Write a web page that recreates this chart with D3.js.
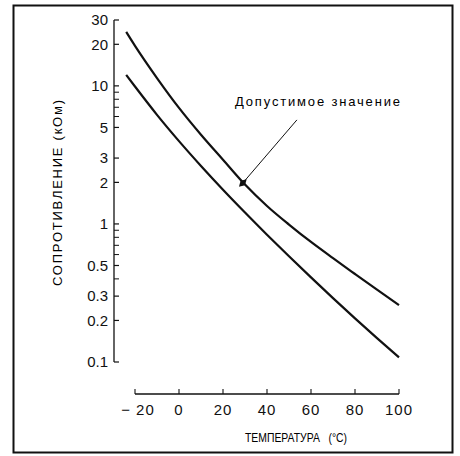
<!DOCTYPE html>
<meta charset="utf-8">
<style>
  body { margin: 0; background: white; }
  svg { display: block; font-family: "Liberation Sans", Arial, sans-serif; }
  .tick-label { font-size: 15px; fill: #111; }
</style>
<svg width="460" height="456"></svg>
<script src="https://cdn.jsdelivr.net/npm/d3@7"></script>
<script>
// температура (°C) и сопротивление (кОм)
var temps = [-24, -20, -10, 0, 10, 20, 30, 40, 50, 60, 70, 80, 90, 100];
var upper = [24.6, 19.5, 11.4, 6.93, 4.43, 2.92, 1.93, 1.35, 0.99, 0.74, 0.565, 0.434, 0.334, 0.258];
var lower = [12.0, 9.89, 6.17, 3.98, 2.63, 1.77, 1.21, 0.836, 0.583, 0.41, 0.29, 0.207, 0.149, 0.108];

var xTicks = [-20, 0, 20, 40, 60, 80, 100];
var yMajor = [30, 20, 10, 5, 3, 2, 1, 0.5, 0.3, 0.2, 0.1];
var yMinor = [9, 8, 7, 6, 0.9, 0.8, 0.7, 0.6, 0.4];

var marker = { t: 29, v: 1.98 };
var labelEnd = { t: 53.6, v: 5.67 };

var svg = d3.select("svg");

var x = d3.scaleLinear().domain([-20, 100]).range([135, 399]);
var y = d3.scaleLog().domain([0.1, 30]).range([362, 20]);

// рамка
svg.append("rect")
  .attr("x", 13.5).attr("y", 5.5)
  .attr("width", 439).attr("height", 447)
  .attr("fill", "none").attr("stroke", "#111").attr("stroke-width", 2);

// ось Y
var yAxisX = 114;
svg.append("line")
  .attr("x1", yAxisX).attr("x2", yAxisX)
  .attr("y1", y(30)).attr("y2", y(0.1))
  .attr("stroke", "#111").attr("stroke-width", 1.3);

svg.selectAll(".ymaj").data(yMajor).enter().append("line")
  .attr("x1", yAxisX).attr("x2", yAxisX + 5)
  .attr("y1", function(d) { return y(d); }).attr("y2", function(d) { return y(d); })
  .attr("stroke", "#111").attr("stroke-width", 1.2);

svg.selectAll(".ymin").data(yMinor).enter().append("line")
  .attr("x1", yAxisX).attr("x2", yAxisX + 5)
  .attr("y1", function(d) { return y(d); }).attr("y2", function(d) { return y(d); })
  .attr("stroke", "#111").attr("stroke-width", 1);

svg.selectAll(".ylab").data(yMajor).enter().append("text")
  .attr("class", "tick-label")
  .attr("x", yAxisX - 6)
  .attr("y", function(d) { return y(d); })
  .attr("dy", "0.35em")
  .attr("text-anchor", "end")
  .text(function(d) { return d; });

// ось X
var xAxisY = 394;
svg.append("line")
  .attr("x1", x(-20)).attr("x2", x(100))
  .attr("y1", xAxisY).attr("y2", xAxisY)
  .attr("stroke", "#111").attr("stroke-width", 1.3);

svg.selectAll(".xt").data(xTicks).enter().append("line")
  .attr("x1", function(d) { return x(d); }).attr("x2", function(d) { return x(d); })
  .attr("y1", xAxisY).attr("y2", xAxisY - 5)
  .attr("stroke", "#111").attr("stroke-width", 1.1);

svg.selectAll(".xlab").data(xTicks).enter().append("text")
  .attr("class", "tick-label")
  .attr("x", function(d) { return x(d) + (d < 0 ? 3 : 0); })
  .attr("y", 415)
  .attr("text-anchor", "middle")
  .attr("letter-spacing", "1px")
  .text(function(d) { return d < 0 ? "\u2212 " + Math.abs(d) : d; });

// подписи осей
svg.append("text")
  .attr("transform", "translate(245,442) scale(0.8,1)")
  .attr("font-size", 13)
  .style("white-space", "pre")
  .text("ТЕМПЕРАТУРА   (°C)");

svg.append("text")
  .attr("transform", "translate(62,193) rotate(-90)")
  .attr("text-anchor", "middle")
  .attr("font-size", 13)
  .attr("textLength", 186)
  .text("СОПРОТИВЛЕНИЕ (кОм)");

// кривые
var line = d3.line()
  .x(function(d) { return x(d[0]); })
  .y(function(d) { return y(d[1]); })
  .curve(d3.curveMonotoneX);

[upper, lower].forEach(function(series) {
  svg.append("path")
    .datum(temps.map(function(t, i) { return [t, series[i]]; }))
    .attr("d", line)
    .attr("fill", "none")
    .attr("stroke", "#111")
    .attr("stroke-width", 2.2);
});

// допустимое значение
svg.append("line")
  .attr("x1", x(marker.t)).attr("y1", y(marker.v))
  .attr("x2", x(labelEnd.t)).attr("y2", y(labelEnd.v))
  .attr("stroke", "#111").attr("stroke-width", 1);

svg.append("path")
  .attr("d", d3.symbol(d3.symbolDiamond, 34)())
  .attr("transform", "translate(" + x(marker.t) + "," + y(marker.v) + ") rotate(45)")
  .attr("fill", "#111");

svg.append("text")
  .attr("x", 235).attr("y", 106)
  .attr("font-size", 13)
  .attr("textLength", 165)
  .text("Допустимое значение");
</script>
